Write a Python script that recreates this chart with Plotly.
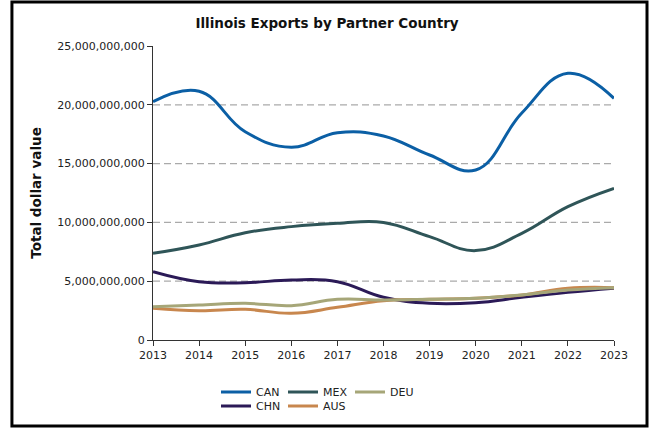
import plotly.graph_objects as go

years = [2013, 2014, 2015, 2016, 2017, 2018, 2019, 2020, 2021, 2022, 2023]

can = [20.26e9, 21.15e9, 17.71e9, 16.39e9, 17.63e9, 17.35e9, 15.73e9, 14.46e9, 19.30e9, 22.68e9, 20.55e9]
chn = [5.81e9, 4.96e9, 4.87e9, 5.10e9, 4.96e9, 3.63e9, 3.12e9, 3.17e9, 3.63e9, 4.05e9, 4.40e9]
mex = [7.37e9, 8.08e9, 9.12e9, 9.64e9, 9.92e9, 10.00e9, 8.79e9, 7.60e9, 9.07e9, 11.34e9, 12.90e9]
aus = [2.69e9, 2.49e9, 2.61e9, 2.27e9, 2.78e9, 3.34e9, 3.46e9, 3.55e9, 3.83e9, 4.40e9, 4.45e9]
deu = [2.83e9, 2.98e9, 3.12e9, 2.92e9, 3.46e9, 3.40e9, 3.46e9, 3.55e9, 3.83e9, 4.25e9, 4.45e9]

y_ticks = [0, 5e9, 10e9, 15e9, 20e9, 25e9]
grid_values = [5e9, 10e9, 15e9, 20e9]

FONT = "DejaVu Sans"

series = [
    ("CAN", can, "#0b5fa5", "legend"),
    ("CHN", chn, "#2b1a57", "legend2"),
    ("MEX", mex, "#2f5558", "legend"),
    ("AUS", aus, "#c8874e", "legend2"),
    ("DEU", deu, "#a6a678", "legend"),
]

fig = go.Figure()
for name, vals, color, leg in series:
    fig.add_trace(go.Scatter(
        x=years, y=vals, name=name, mode="lines",
        line=dict(color=color, width=3, shape="spline", smoothing=1.2),
        legend=leg,
    ))

shapes = []
for g in grid_values:
    shapes.append(dict(type="line", xref="paper", x0=0, x1=1, yref="y", y0=g, y1=g,
                       line=dict(color="#aaaaaa", width=1.2, dash="7px,4px"), layer="below"))
# outer frame
shapes.append(dict(type="rect", xref="paper", yref="paper",
                   x0=-0.306, x1=1.0716, y0=-0.2925, y1=1.150,
                   line=dict(color="black", width=3)))

fig.update_layout(
    width=654, height=428,
    margin=dict(l=153, r=40, t=46, b=88, autoexpand=False),
    paper_bgcolor="white", plot_bgcolor="white",
    font=dict(family=FONT, size=11, color="#222222"),
    title=dict(text="Illinois Exports by Partner Country", xref="container", x=0.5,
               xanchor="center", yref="container", y=1 - 23 / 428, yanchor="middle",
               font=dict(family=FONT, size=13.5, weight="bold", color="#111111")),
    xaxis=dict(range=[2013, 2023], tickvals=years, ticks="outside", ticklen=5,
               tickcolor="#333333", showline=True, linecolor="#333333", linewidth=1,
               showgrid=False, zeroline=False, automargin=False,
               tickfont=dict(size=11)),
    yaxis=dict(range=[0, 25e9], tickvals=y_ticks, tickformat=",d", ticks="outside",
               ticklen=5, tickcolor="#333333", showline=True, linecolor="#333333",
               linewidth=1, showgrid=False, zeroline=False, automargin=False,
               tickfont=dict(size=11),
               title=dict(text="Total dollar value", standoff=12,
                          font=dict(family=FONT, size=13.5, weight="bold", color="#111111"))),
    legend=dict(orientation="h", x=(216 - 153) / 461, xanchor="left",
                y=(340 - 392) / 294, yanchor="middle", entrywidth=22, itemwidth=30,
                bgcolor="rgba(0,0,0,0)", font=dict(size=11), traceorder="normal"),
    legend2=dict(orientation="h", x=(216 - 153) / 461, xanchor="left",
                 y=(340 - 406) / 294, yanchor="middle", entrywidth=22, itemwidth=30,
                 bgcolor="rgba(0,0,0,0)", font=dict(size=11), traceorder="normal"),
    shapes=shapes,
    showlegend=True,
)

fig.write_html("out.html", config={"displayModeBar": False},
               post_script="document.body.style.margin='0';document.body.style.padding='0';")
